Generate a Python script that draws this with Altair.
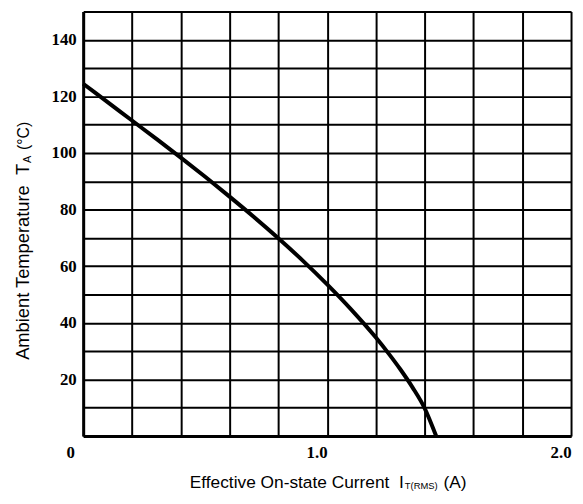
import altair as alt
import pandas as pd

# Curve: effective on-state current (A) vs ambient temperature (°C)
current = [0.0, 0.1, 0.2, 0.3, 0.4, 0.5, 0.6, 0.7, 0.8, 0.9, 1.0, 1.1, 1.2, 1.25, 1.3, 1.35, 1.4, 1.447]
temperature = [124.5, 118.0, 111.5, 105.0, 98.4, 91.6, 84.6, 77.4, 69.9, 62.0, 53.6, 44.6, 34.8, 29.4, 23.6, 17.2, 9.8, 0.0]

# Grid / tick values
x_grid = [0.0, 0.2, 0.4, 0.6, 0.8, 1.0, 1.2, 1.4, 1.6, 1.8, 2.0]
x_label_values = [0, 1, 2]
x_label_texts = ["0", "1.0", "2.0"]
y_grid = [0, 10, 20, 30, 40, 50, 60, 70, 80, 90, 100, 110, 120, 130, 140, 150]
y_label_values = [20, 40, 60, 80, 100, 120, 140]

# Title pieces (main text, subscript, unit)
x_title = ["Effective On-state Current\u00a0\u00a0I", "T(RMS)", "(A)"]
y_title = ["Ambient Temperature\u00a0\u00a0T", "A", "(°C)"]

df = pd.DataFrame({"current": current, "temperature": temperature})

x_expr = " : ".join(
    f"datum.value == {v} ? '{t}'" for v, t in zip(x_label_values, x_label_texts)
) + " : ''"
y_expr = "indexof([" + ",".join(str(v) for v in y_label_values) + "], datum.value) >= 0 ? datum.label : ''"

label_font = "Liberation Serif"
title_font = "Liberation Sans"

line = alt.Chart(df).mark_line(
    color="black", strokeWidth=4, interpolate="monotone"
).encode(
    x=alt.X(
        "current:Q",
        scale=alt.Scale(domain=[0, 2], nice=False, zero=False),
        axis=alt.Axis(
            values=x_grid,
            grid=True,
            gridColor="black",
            gridWidth=2,
            gridOpacity=1,
            domainColor="black",
            domainWidth=3,
            ticks=False,
            labelExpr=x_expr,
            labelAlign="right",
            labelBaseline="top",
            labelOffset={"condition": {"test": "datum.value == 0", "value": -9}, "value": 0},
            labelPadding=9,
            labelFont=label_font,
            labelFontWeight="bold",
            labelFontSize=17,
            labelColor="black",
            labelOverlap=False,
            labelFlush=False,
            title=None,
        ),
    ),
    y=alt.Y(
        "temperature:Q",
        scale=alt.Scale(domain=[0, 150], nice=False),
        axis=alt.Axis(
            values=y_grid,
            grid=True,
            gridColor="black",
            gridWidth=2,
            gridOpacity=1,
            domainColor="black",
            domainWidth=3,
            ticks=False,
            labelExpr=y_expr,
            labelAlign="right",
            labelBaseline="middle",
            labelPadding=7,
            labelFont=label_font,
            labelFontWeight="bold",
            labelFontSize=17,
            labelColor="black",
            labelOverlap=False,
            labelFlush=False,
            title=None,
        ),
    ),
)


def piece(text, x, y, size, align, angle=0):
    return alt.Chart(pd.DataFrame({"t": [text]})).mark_text(
        font=title_font,
        fontSize=size,
        color="black",
        align=align,
        baseline="alphabetic",
        angle=angle,
    ).encode(x=alt.value(x), y=alt.value(y), text="t:N")


titles = [
    piece(x_title[0], 324, 482, 17.5, "right"),
    piece(x_title[1], 325, 483, 9.5, "left"),
    piece(x_title[2], 364, 482, 17.5, "left"),
    piece(y_title[0], -55, 154, 18.5, "right", 270),
    piece(y_title[1], -53, 153, 11, "left", 270),
    piece(y_title[2], -55, 140, 16, "left", 270),
]

chart = alt.layer(line, *titles).properties(
    width=493,
    height=429,
    autosize=alt.AutoSizeParams(type="none"),
    padding={"left": 76, "top": 1, "right": 4, "bottom": 57},
).configure_view(
    stroke="black", strokeWidth=3
).configure(background="white")

chart.save("out.html", embed_options={"renderer": "svg", "actions": False})
